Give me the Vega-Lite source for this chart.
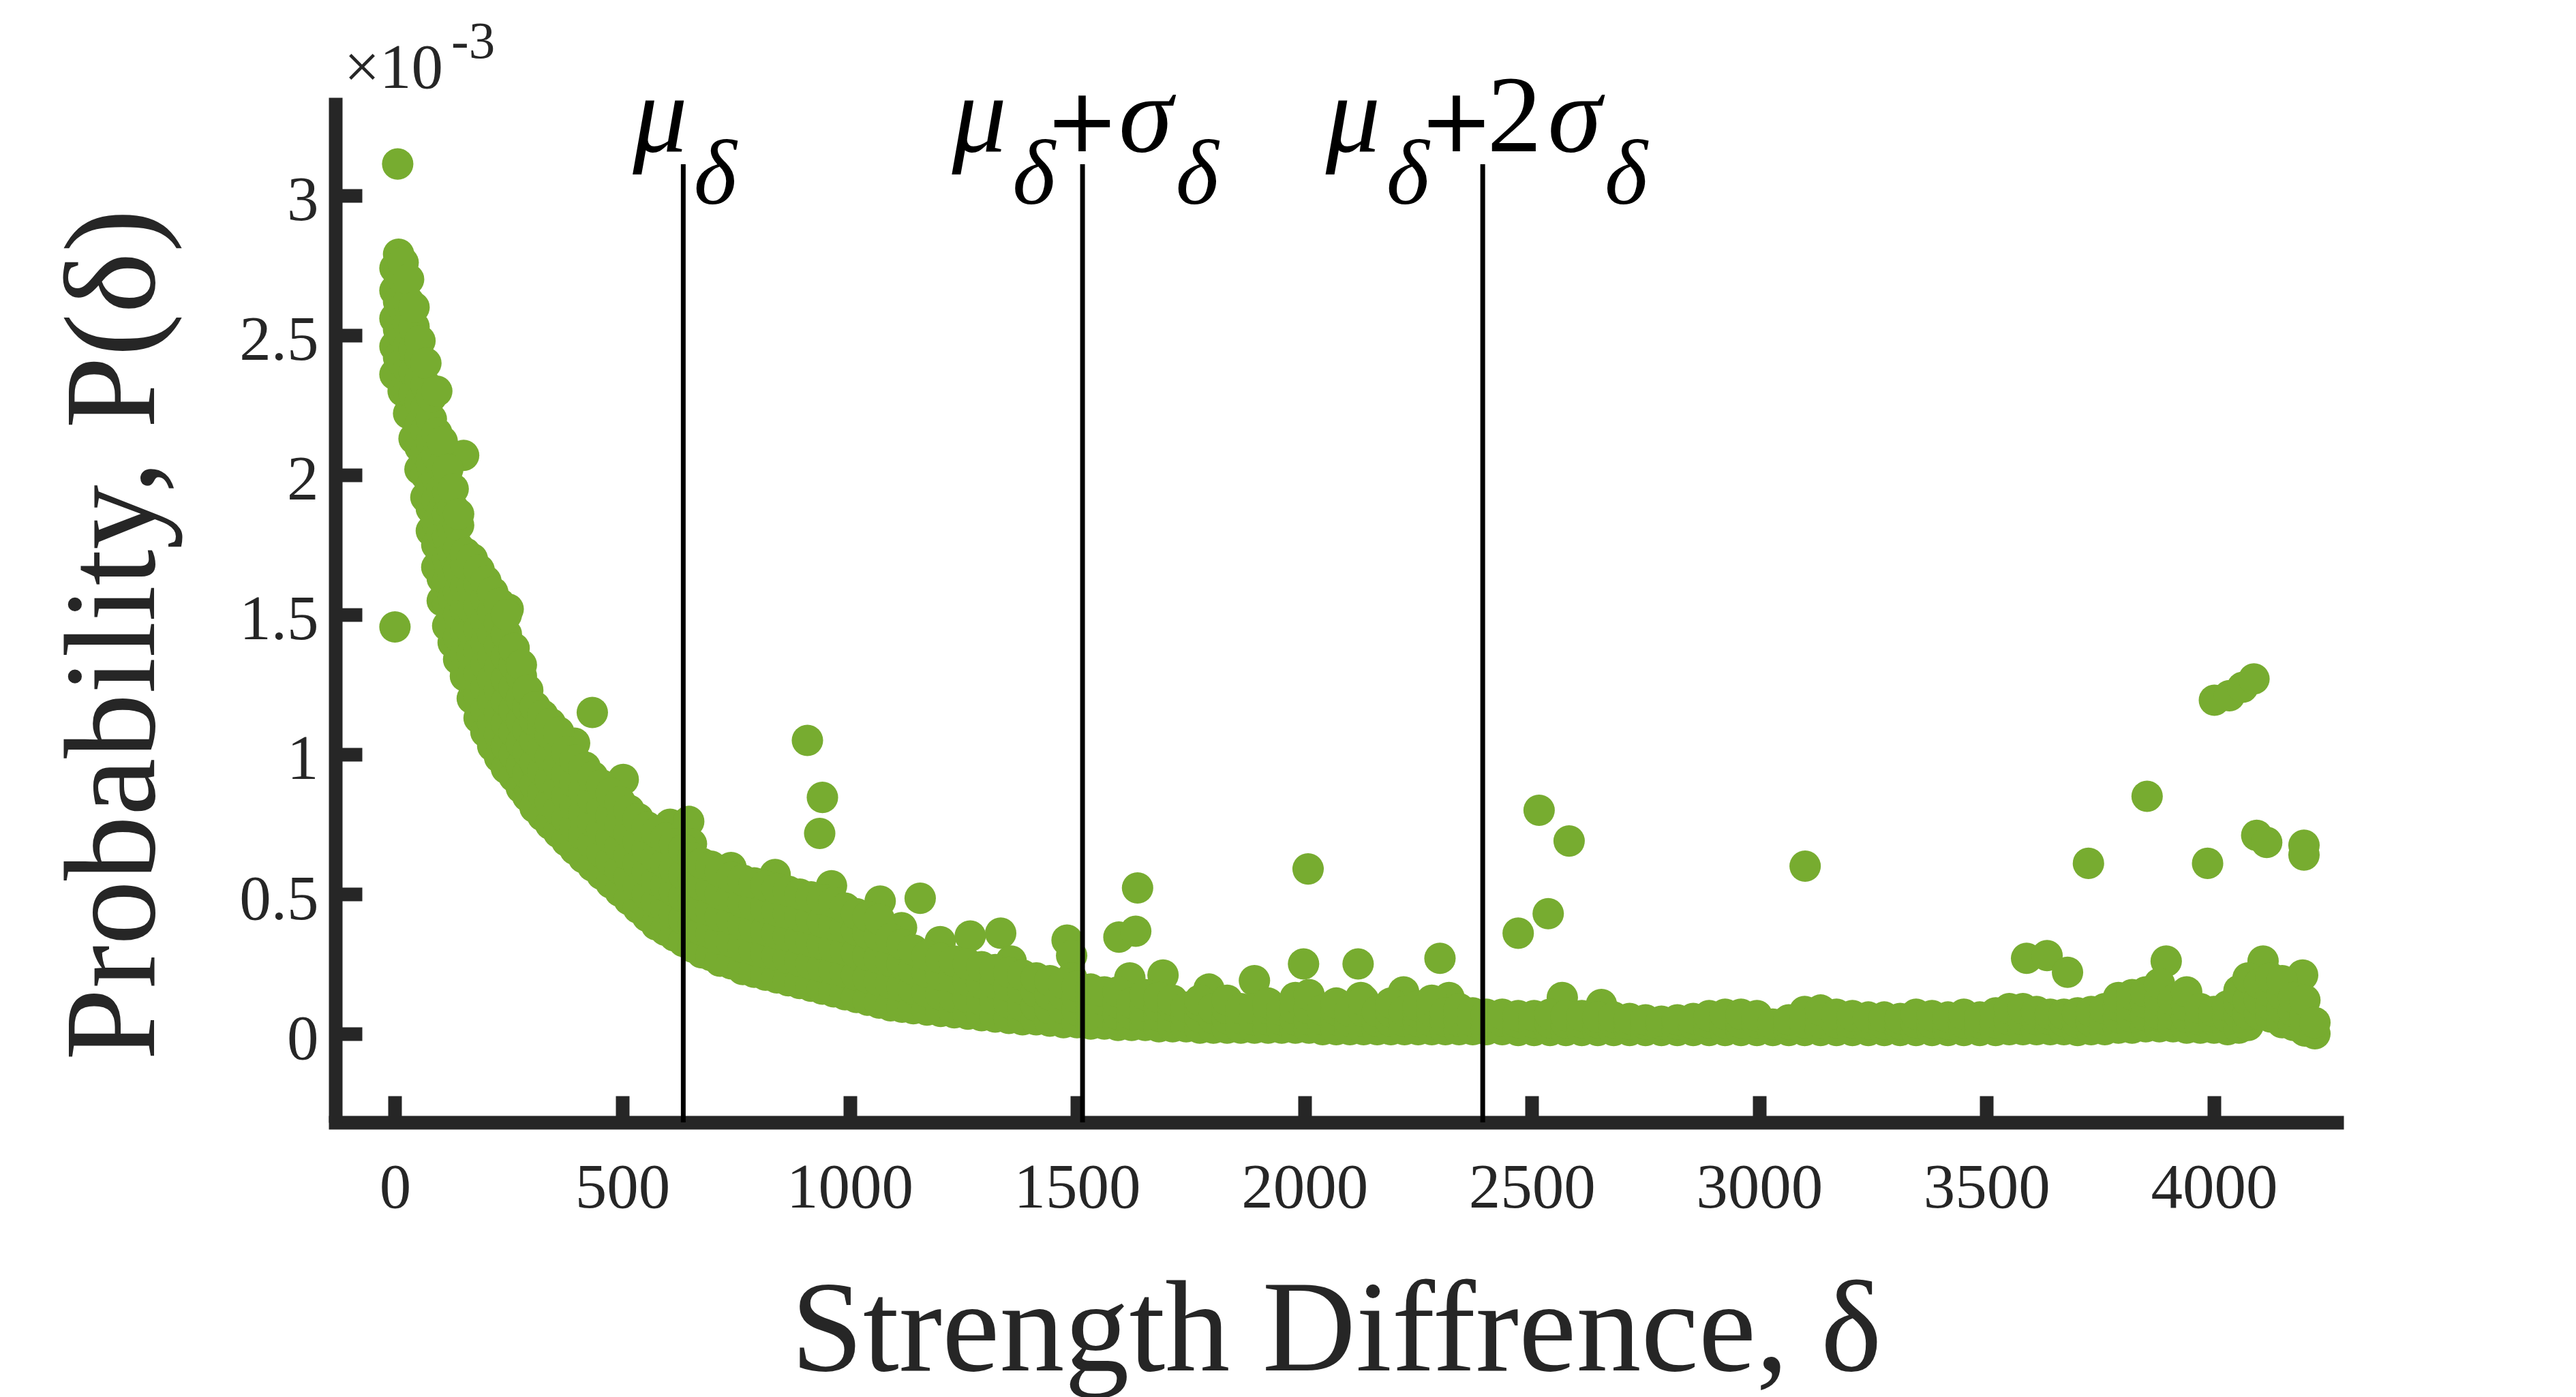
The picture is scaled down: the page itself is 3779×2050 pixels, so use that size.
{
  "$schema": "https://vega.github.io/schema/vega-lite/v6.json",
  "width": 2936,
  "height": 1504,
  "autosize": {"type": "none"},
  "padding": {"left": 492, "top": 143, "right": 351, "bottom": 403},
  "background": "white",
  "config": {"view": {"stroke": null}},
  "encoding": {
    "x": {
      "field": "x", "type": "quantitative",
      "scale": {"domain": [-131, 4270], "nice": false, "zero": false},
      "axis": {
        "title": "Strength Diffrence, δ",
        "values": [0, 500, 1000, 1500, 2000, 2500, 3000, 3500, 4000],
        "format": "d", "grid": false,
        "domainColor": "#262626", "domainWidth": 20, "domainCap": "square",
        "tickColor": "#262626", "tickWidth": 20, "tickSize": -39,
        "labelFont": "Liberation Serif", "labelFontSize": 93, "labelColor": "#262626",
        "labelPadding": 90, "labelFlush": false, "labelOverlap": false, "labelLimit": 0,
        "titleFont": "Liberation Serif", "titleFontSize": 190, "titleFontWeight": "normal",
        "titleColor": "#262626", "titleY": 363, "titleBaseline": "alphabetic", "titleLimit": 0
      }
    },
    "y": {
      "field": "y", "type": "quantitative",
      "scale": {"domain": [-0.317, 3.351], "nice": false, "zero": false},
      "axis": {
        "title": "Probability, P(δ)",
        "values": [0, 0.5, 1, 1.5, 2, 2.5, 3],
        "format": "~g", "grid": false,
        "domainColor": "#262626", "domainWidth": 20,
        "tickColor": "#262626", "tickWidth": 20, "tickSize": -39,
        "labelFont": "Liberation Serif", "labelFontSize": 93, "labelColor": "#262626",
        "labelPadding": 64, "labelOffset": 8, "labelFlush": false, "labelOverlap": false, "labelLimit": 0,
        "titleFont": "Liberation Serif", "titleFontSize": 190, "titleFontWeight": "normal",
        "titleColor": "#262626", "titleX": -267, "titleY": 788, "titleAngle": -90,
        "titleBaseline": "alphabetic", "titleAlign": "center", "titleLimit": 0
      }
    }
  },
  "layer": [
    {
      "data": {"values": [
        {"x":6,"y":3.113},{"x":0,"y":1.456},{"x":151,"y":2.07},{"x":249,"y":1.52},{"x":434,"y":1.15},{"x":395,"y":1.04},{"x":418,"y":0.955},{"x":502,"y":0.91},{"x":605,"y":0.75},{"x":646,"y":0.76},{"x":652,"y":0.68},{"x":739,"y":0.595},{"x":836,"y":0.57},{"x":907,"y":1.05},{"x":940,"y":0.846},{"x":934,"y":0.717},{"x":960,"y":0.53},{"x":1067,"y":0.475},{"x":1155,"y":0.485},{"x":1114,"y":0.38},{"x":1199,"y":0.33},{"x":1265,"y":0.35},{"x":1332,"y":0.36},{"x":1355,"y":0.26},{"x":1478,"y":0.335},{"x":1488,"y":0.28},{"x":1488,"y":0.2},{"x":1592,"y":0.346},{"x":1629,"y":0.367},{"x":1633,"y":0.522},{"x":1616,"y":0.2},{"x":1689,"y":0.21},{"x":1790,"y":0.16},{"x":1890,"y":0.19},{"x":1998,"y":0.25},{"x":2008,"y":0.59},{"x":2118,"y":0.25},{"x":2124,"y":0.13},{"x":2218,"y":0.15},{"x":2298,"y":0.27},{"x":2318,"y":0.13},{"x":2470,"y":0.36},{"x":2516,"y":0.8},{"x":2536,"y":0.43},{"x":2582,"y":0.69},{"x":2567,"y":0.13},{"x":2653,"y":0.105},{"x":3101,"y":0.6},{"x":3588,"y":0.27},{"x":3633,"y":0.28},{"x":3678,"y":0.22},{"x":3724,"y":0.61},{"x":3853,"y":0.85},{"x":3895,"y":0.26},{"x":3986,"y":0.61},{"x":4001,"y":1.194},{"x":4034,"y":1.21},{"x":4063,"y":1.24},{"x":4088,"y":1.27},{"x":4094,"y":0.71},{"x":4116,"y":0.685},{"x":4198,"y":0.675},{"x":4198,"y":0.64},{"x":4108,"y":0.26},{"x":4195,"y":0.21},
        {"x":0,"y":2.36},{"x":0,"y":2.46},{"x":0,"y":2.56},{"x":0,"y":2.66},{"x":0,"y":2.74},
        {"x":8,"y":2.42},{"x":8,"y":2.52},{"x":8,"y":2.62},{"x":8,"y":2.72},{"x":8,"y":2.79},
        {"x":18,"y":2.3},{"x":18,"y":2.4},{"x":18,"y":2.5},{"x":18,"y":2.6},{"x":18,"y":2.7},{"x":18,"y":2.76},
        {"x":30,"y":2.22},{"x":30,"y":2.3},{"x":30,"y":2.38},{"x":30,"y":2.46},{"x":30,"y":2.54},{"x":30,"y":2.62},{"x":30,"y":2.7},
        {"x":42,"y":2.13},{"x":42,"y":2.21},{"x":42,"y":2.29},{"x":42,"y":2.37},{"x":42,"y":2.45},{"x":42,"y":2.53},{"x":42,"y":2.6},
        {"x":55,"y":2.02},{"x":55,"y":2.1},{"x":55,"y":2.18},{"x":55,"y":2.26},{"x":55,"y":2.34},{"x":55,"y":2.42},{"x":55,"y":2.48},
        {"x":68,"y":1.92},{"x":68,"y":2.0},{"x":68,"y":2.08},{"x":68,"y":2.16},{"x":68,"y":2.24},{"x":68,"y":2.32},{"x":68,"y":2.4},
        {"x":80,"y":1.8},{"x":80,"y":1.88},{"x":80,"y":1.96},{"x":80,"y":2.04},{"x":80,"y":2.12},{"x":80,"y":2.2},{"x":80,"y":2.28},
        {"x":92,"y":1.67},{"x":92,"y":1.75},{"x":92,"y":1.83},{"x":92,"y":1.91},{"x":92,"y":1.99},{"x":92,"y":2.07},{"x":92,"y":2.15},{"x":92,"y":2.3},
        {"x":104,"y":1.55},{"x":104,"y":1.63},{"x":104,"y":1.71},{"x":104,"y":1.79},{"x":104,"y":1.87},{"x":104,"y":1.95},{"x":104,"y":2.03},{"x":104,"y":2.12},
        {"x":116,"y":1.46},{"x":116,"y":1.54},{"x":116,"y":1.62},{"x":116,"y":1.7},{"x":116,"y":1.78},{"x":116,"y":1.86},{"x":116,"y":1.94},{"x":116,"y":2.02},
        {"x":128,"y":1.4},{"x":128,"y":1.48},{"x":128,"y":1.56},{"x":128,"y":1.64},{"x":128,"y":1.72},{"x":128,"y":1.8},{"x":128,"y":1.88},{"x":128,"y":1.95},
        {"x":140,"y":1.34},{"x":140,"y":1.42},{"x":140,"y":1.5},{"x":140,"y":1.58},{"x":140,"y":1.66},{"x":140,"y":1.74},{"x":140,"y":1.82},{"x":140,"y":1.86},
        {"x":155,"y":1.28},{"x":155,"y":1.36},{"x":155,"y":1.44},{"x":155,"y":1.52},{"x":155,"y":1.6},{"x":155,"y":1.68},{"x":155,"y":1.72},
        {"x":170,"y":1.2},{"x":170,"y":1.28},{"x":170,"y":1.36},{"x":170,"y":1.44},{"x":170,"y":1.52},{"x":170,"y":1.6},{"x":170,"y":1.7},
        {"x":185,"y":1.13},{"x":185,"y":1.21},{"x":185,"y":1.29},{"x":185,"y":1.37},{"x":185,"y":1.45},{"x":185,"y":1.53},{"x":185,"y":1.61},{"x":185,"y":1.66},
        {"x":200,"y":1.08},{"x":200,"y":1.16},{"x":200,"y":1.24},{"x":200,"y":1.32},{"x":200,"y":1.4},{"x":200,"y":1.48},{"x":200,"y":1.56},{"x":200,"y":1.62},
        {"x":215,"y":1.03},{"x":215,"y":1.11},{"x":215,"y":1.19},{"x":215,"y":1.27},{"x":215,"y":1.35},{"x":215,"y":1.43},{"x":215,"y":1.51},{"x":215,"y":1.58},
        {"x":230,"y":0.99},{"x":230,"y":1.07},{"x":230,"y":1.15},{"x":230,"y":1.23},{"x":230,"y":1.31},{"x":230,"y":1.39},{"x":230,"y":1.47},{"x":230,"y":1.54},
        {"x":245,"y":0.95},{"x":245,"y":1.03},{"x":245,"y":1.11},{"x":245,"y":1.19},{"x":245,"y":1.27},{"x":245,"y":1.35},{"x":245,"y":1.43},{"x":245,"y":1.5},
        {"x":262,"y":0.92},{"x":262,"y":1.0},{"x":262,"y":1.08},{"x":262,"y":1.16},{"x":262,"y":1.24},{"x":262,"y":1.32},{"x":262,"y":1.38},
        {"x":278,"y":0.88},{"x":278,"y":0.96},{"x":278,"y":1.04},{"x":278,"y":1.12},{"x":278,"y":1.2},{"x":278,"y":1.28},{"x":278,"y":1.32},
        {"x":292,"y":0.85},{"x":292,"y":0.93},{"x":292,"y":1.01},{"x":292,"y":1.09},{"x":292,"y":1.17},{"x":292,"y":1.23},
        {"x":308,"y":0.81},{"x":308,"y":0.89},{"x":308,"y":0.97},{"x":308,"y":1.05},{"x":308,"y":1.12},{"x":308,"y":1.17},
        {"x":325,"y":0.78},{"x":325,"y":0.86},{"x":325,"y":0.94},{"x":325,"y":1.02},{"x":325,"y":1.1},{"x":325,"y":1.14},
        {"x":342,"y":0.75},{"x":342,"y":0.83},{"x":342,"y":0.91},{"x":342,"y":0.99},{"x":342,"y":1.07},{"x":342,"y":1.11},
        {"x":360,"y":0.72},{"x":360,"y":0.8},{"x":360,"y":0.88},{"x":360,"y":0.96},{"x":360,"y":1.04},{"x":360,"y":1.08},
        {"x":378,"y":0.69},{"x":378,"y":0.77},{"x":378,"y":0.85},{"x":378,"y":0.93},{"x":378,"y":1.01},
        {"x":396,"y":0.66},{"x":396,"y":0.74},{"x":396,"y":0.82},{"x":396,"y":0.9},{"x":396,"y":0.98},
        {"x":415,"y":0.63},{"x":415,"y":0.71},{"x":415,"y":0.79},{"x":415,"y":0.87},{"x":415,"y":0.95},
        {"x":435,"y":0.6},{"x":435,"y":0.68},{"x":435,"y":0.76},{"x":435,"y":0.84},{"x":435,"y":0.92},
        {"x":455,"y":0.57},{"x":455,"y":0.65},{"x":455,"y":0.73},{"x":455,"y":0.81},{"x":455,"y":0.89},
        {"x":475,"y":0.54},{"x":475,"y":0.62},{"x":475,"y":0.7},{"x":475,"y":0.78},{"x":475,"y":0.86},
        {"x":495,"y":0.51},{"x":495,"y":0.59},{"x":495,"y":0.67},{"x":495,"y":0.75},{"x":495,"y":0.83},
        {"x":515,"y":0.48},{"x":515,"y":0.56},{"x":515,"y":0.64},{"x":515,"y":0.72},{"x":515,"y":0.8},
        {"x":535,"y":0.45},{"x":535,"y":0.53},{"x":535,"y":0.61},{"x":535,"y":0.69},{"x":535,"y":0.77},
        {"x":555,"y":0.42},{"x":555,"y":0.5},{"x":555,"y":0.58},{"x":555,"y":0.66},{"x":555,"y":0.74},
        {"x":575,"y":0.39},{"x":575,"y":0.47},{"x":575,"y":0.55},{"x":575,"y":0.63},{"x":575,"y":0.72},
        {"x":595,"y":0.37},{"x":595,"y":0.45},{"x":595,"y":0.53},{"x":595,"y":0.61},{"x":595,"y":0.7},
        {"x":615,"y":0.35},{"x":615,"y":0.43},{"x":615,"y":0.51},{"x":615,"y":0.59},{"x":615,"y":0.68},
        {"x":635,"y":0.33},{"x":635,"y":0.41},{"x":635,"y":0.49},{"x":635,"y":0.57},{"x":635,"y":0.66},
        {"x":655,"y":0.31},{"x":655,"y":0.39},{"x":655,"y":0.47},{"x":655,"y":0.55},{"x":655,"y":0.63},
        {"x":675,"y":0.29},{"x":675,"y":0.37},{"x":675,"y":0.45},{"x":675,"y":0.53},{"x":675,"y":0.61},
        {"x":695,"y":0.28},{"x":695,"y":0.36},{"x":695,"y":0.44},{"x":695,"y":0.52},{"x":695,"y":0.6},
        {"x":715,"y":0.26},{"x":715,"y":0.34},{"x":715,"y":0.42},{"x":715,"y":0.5},{"x":715,"y":0.58},
        {"x":740,"y":0.25},{"x":740,"y":0.33},{"x":740,"y":0.41},{"x":740,"y":0.49},{"x":740,"y":0.56},
        {"x":765,"y":0.23},{"x":765,"y":0.31},{"x":765,"y":0.39},{"x":765,"y":0.47},{"x":765,"y":0.55},
        {"x":790,"y":0.22},{"x":790,"y":0.3},{"x":790,"y":0.38},{"x":790,"y":0.46},{"x":790,"y":0.54},
        {"x":815,"y":0.21},{"x":815,"y":0.29},{"x":815,"y":0.37},{"x":815,"y":0.45},{"x":815,"y":0.53},
        {"x":840,"y":0.2},{"x":840,"y":0.28},{"x":840,"y":0.36},{"x":840,"y":0.44},{"x":840,"y":0.52},
        {"x":865,"y":0.19},{"x":865,"y":0.27},{"x":865,"y":0.35},{"x":865,"y":0.43},{"x":865,"y":0.51},
        {"x":890,"y":0.18},{"x":890,"y":0.26},{"x":890,"y":0.34},{"x":890,"y":0.42},{"x":890,"y":0.5},
        {"x":915,"y":0.17},{"x":915,"y":0.25},{"x":915,"y":0.33},{"x":915,"y":0.41},{"x":915,"y":0.49},
        {"x":940,"y":0.16},{"x":940,"y":0.24},{"x":940,"y":0.32},{"x":940,"y":0.4},{"x":940,"y":0.48},
        {"x":965,"y":0.15},{"x":965,"y":0.23},{"x":965,"y":0.31},{"x":965,"y":0.39},{"x":965,"y":0.47},
        {"x":990,"y":0.14},{"x":990,"y":0.22},{"x":990,"y":0.3},{"x":990,"y":0.38},{"x":990,"y":0.45},
        {"x":1015,"y":0.13},{"x":1015,"y":0.21},{"x":1015,"y":0.29},{"x":1015,"y":0.37},{"x":1015,"y":0.43},
        {"x":1040,"y":0.12},{"x":1040,"y":0.2},{"x":1040,"y":0.28},{"x":1040,"y":0.36},{"x":1040,"y":0.42},
        {"x":1065,"y":0.11},{"x":1065,"y":0.19},{"x":1065,"y":0.27},{"x":1065,"y":0.35},{"x":1065,"y":0.41},
        {"x":1090,"y":0.1},{"x":1090,"y":0.18},{"x":1090,"y":0.26},{"x":1090,"y":0.34},
        {"x":1115,"y":0.095},{"x":1115,"y":0.17},{"x":1115,"y":0.25},{"x":1115,"y":0.32},
        {"x":1140,"y":0.09},{"x":1140,"y":0.16},{"x":1140,"y":0.23},{"x":1140,"y":0.3},
        {"x":1170,"y":0.085},{"x":1170,"y":0.15},{"x":1170,"y":0.22},{"x":1170,"y":0.28},
        {"x":1200,"y":0.08},{"x":1200,"y":0.14},{"x":1200,"y":0.21},{"x":1200,"y":0.27},
        {"x":1230,"y":0.075},{"x":1230,"y":0.13},{"x":1230,"y":0.2},{"x":1230,"y":0.26},
        {"x":1260,"y":0.07},{"x":1260,"y":0.13},{"x":1260,"y":0.19},{"x":1260,"y":0.25},
        {"x":1290,"y":0.065},{"x":1290,"y":0.12},{"x":1290,"y":0.18},{"x":1290,"y":0.24},
        {"x":1320,"y":0.06},{"x":1320,"y":0.12},{"x":1320,"y":0.18},{"x":1320,"y":0.23},
        {"x":1350,"y":0.055},{"x":1350,"y":0.11},{"x":1350,"y":0.17},{"x":1350,"y":0.22},
        {"x":1380,"y":0.05},{"x":1380,"y":0.1},{"x":1380,"y":0.16},{"x":1380,"y":0.21},
        {"x":1410,"y":0.05},{"x":1410,"y":0.1},{"x":1410,"y":0.15},{"x":1410,"y":0.2},
        {"x":1440,"y":0.045},{"x":1440,"y":0.09},{"x":1440,"y":0.14},{"x":1440,"y":0.19},
        {"x":1470,"y":0.04},{"x":1470,"y":0.09},{"x":1470,"y":0.14},{"x":1470,"y":0.18},
        {"x":1500,"y":0.04},{"x":1500,"y":0.085},{"x":1500,"y":0.13},{"x":1500,"y":0.17},
        {"x":1530,"y":0.035},{"x":1530,"y":0.08},{"x":1530,"y":0.12},{"x":1530,"y":0.16},
        {"x":1560,"y":0.035},{"x":1560,"y":0.075},{"x":1560,"y":0.12},{"x":1560,"y":0.15},
        {"x":1590,"y":0.03},{"x":1590,"y":0.07},{"x":1590,"y":0.11},{"x":1590,"y":0.15},
        {"x":1620,"y":0.03},{"x":1620,"y":0.07},{"x":1620,"y":0.11},
        {"x":1650,"y":0.03},{"x":1650,"y":0.065},{"x":1650,"y":0.1},{"x":1650,"y":0.14},
        {"x":1680,"y":0.025},{"x":1680,"y":0.065},{"x":1680,"y":0.1},{"x":1680,"y":0.13},
        {"x":1710,"y":0.025},{"x":1710,"y":0.06},{"x":1710,"y":0.1},{"x":1710,"y":0.12},
        {"x":1740,"y":0.025},{"x":1740,"y":0.06},{"x":1740,"y":0.095},
        {"x":1770,"y":0.02},{"x":1770,"y":0.06},{"x":1770,"y":0.1},{"x":1770,"y":0.12},
        {"x":1800,"y":0.02},{"x":1800,"y":0.055},{"x":1800,"y":0.09},
        {"x":1830,"y":0.02},{"x":1830,"y":0.055},{"x":1830,"y":0.09},{"x":1830,"y":0.12},
        {"x":1860,"y":0.02},{"x":1860,"y":0.055},{"x":1860,"y":0.09},
        {"x":1890,"y":0.02},{"x":1890,"y":0.05},{"x":1890,"y":0.09},
        {"x":1920,"y":0.02},{"x":1920,"y":0.05},{"x":1920,"y":0.09},{"x":1920,"y":0.11},
        {"x":1950,"y":0.02},{"x":1950,"y":0.05},{"x":1950,"y":0.085},
        {"x":1980,"y":0.02},{"x":1980,"y":0.05},{"x":1980,"y":0.09},{"x":1980,"y":0.13},
        {"x":2010,"y":0.02},{"x":2010,"y":0.05},{"x":2010,"y":0.09},{"x":2010,"y":0.14},
        {"x":2040,"y":0.015},{"x":2040,"y":0.05},{"x":2040,"y":0.085},
        {"x":2070,"y":0.015},{"x":2070,"y":0.05},{"x":2070,"y":0.085},{"x":2070,"y":0.11},
        {"x":2100,"y":0.015},{"x":2100,"y":0.045},{"x":2100,"y":0.08},
        {"x":2130,"y":0.015},{"x":2130,"y":0.045},{"x":2130,"y":0.08},{"x":2130,"y":0.12},
        {"x":2160,"y":0.015},{"x":2160,"y":0.045},{"x":2160,"y":0.08},
        {"x":2190,"y":0.015},{"x":2190,"y":0.045},{"x":2190,"y":0.08},{"x":2190,"y":0.11},
        {"x":2220,"y":0.015},{"x":2220,"y":0.045},{"x":2220,"y":0.08},
        {"x":2250,"y":0.015},{"x":2250,"y":0.045},{"x":2250,"y":0.075},{"x":2250,"y":0.1},
        {"x":2280,"y":0.015},{"x":2280,"y":0.045},{"x":2280,"y":0.08},{"x":2280,"y":0.12},
        {"x":2310,"y":0.015},{"x":2310,"y":0.045},{"x":2310,"y":0.075},
        {"x":2340,"y":0.015},{"x":2340,"y":0.045},{"x":2340,"y":0.075},{"x":2340,"y":0.09},
        {"x":2370,"y":0.015},{"x":2370,"y":0.045},{"x":2370,"y":0.075},
        {"x":2400,"y":0.015},{"x":2400,"y":0.045},{"x":2400,"y":0.07},
        {"x":2435,"y":0.015},{"x":2435,"y":0.045},{"x":2435,"y":0.07},
        {"x":2470,"y":0.012},{"x":2470,"y":0.04},{"x":2470,"y":0.065},
        {"x":2505,"y":0.012},{"x":2505,"y":0.04},{"x":2505,"y":0.065},
        {"x":2540,"y":0.012},{"x":2540,"y":0.04},{"x":2540,"y":0.07},
        {"x":2575,"y":0.012},{"x":2575,"y":0.04},{"x":2575,"y":0.065},
        {"x":2610,"y":0.012},{"x":2610,"y":0.04},{"x":2610,"y":0.065},
        {"x":2645,"y":0.012},{"x":2645,"y":0.04},{"x":2645,"y":0.06},
        {"x":2680,"y":0.012},{"x":2680,"y":0.04},{"x":2680,"y":0.06},
        {"x":2715,"y":0.012},{"x":2715,"y":0.035},{"x":2715,"y":0.055},
        {"x":2750,"y":0.012},{"x":2750,"y":0.035},{"x":2750,"y":0.05},
        {"x":2785,"y":0.012},{"x":2785,"y":0.035},{"x":2785,"y":0.045},
        {"x":2820,"y":0.012},{"x":2820,"y":0.035},{"x":2820,"y":0.05},
        {"x":2855,"y":0.012},{"x":2855,"y":0.035},{"x":2855,"y":0.055},
        {"x":2890,"y":0.012},{"x":2890,"y":0.04},{"x":2890,"y":0.065},
        {"x":2925,"y":0.012},{"x":2925,"y":0.04},{"x":2925,"y":0.07},
        {"x":2960,"y":0.012},{"x":2960,"y":0.04},{"x":2960,"y":0.07},
        {"x":2995,"y":0.012},{"x":2995,"y":0.04},{"x":2995,"y":0.065},
        {"x":3030,"y":0.012},{"x":3030,"y":0.035},
        {"x":3065,"y":0.012},{"x":3065,"y":0.035},{"x":3065,"y":0.05},
        {"x":3100,"y":0.012},{"x":3100,"y":0.04},{"x":3100,"y":0.08},
        {"x":3135,"y":0.012},{"x":3135,"y":0.04},{"x":3135,"y":0.085},
        {"x":3170,"y":0.012},{"x":3170,"y":0.04},{"x":3170,"y":0.07},
        {"x":3205,"y":0.012},{"x":3205,"y":0.04},{"x":3205,"y":0.065},
        {"x":3240,"y":0.012},{"x":3240,"y":0.035},{"x":3240,"y":0.06},
        {"x":3275,"y":0.012},{"x":3275,"y":0.035},{"x":3275,"y":0.06},
        {"x":3310,"y":0.012},{"x":3310,"y":0.035},{"x":3310,"y":0.055},
        {"x":3345,"y":0.012},{"x":3345,"y":0.04},{"x":3345,"y":0.07},
        {"x":3380,"y":0.012},{"x":3380,"y":0.04},{"x":3380,"y":0.065},
        {"x":3415,"y":0.012},{"x":3415,"y":0.035},{"x":3415,"y":0.06},
        {"x":3450,"y":0.012},{"x":3450,"y":0.04},{"x":3450,"y":0.07},
        {"x":3485,"y":0.012},{"x":3485,"y":0.04},{"x":3485,"y":0.06},
        {"x":3520,"y":0.012},{"x":3520,"y":0.04},{"x":3520,"y":0.075},
        {"x":3550,"y":0.015},{"x":3550,"y":0.05},{"x":3550,"y":0.09},
        {"x":3580,"y":0.015},{"x":3580,"y":0.05},{"x":3580,"y":0.09},
        {"x":3610,"y":0.015},{"x":3610,"y":0.05},{"x":3610,"y":0.08},
        {"x":3640,"y":0.015},{"x":3640,"y":0.05},{"x":3640,"y":0.07},
        {"x":3670,"y":0.015},{"x":3670,"y":0.045},{"x":3670,"y":0.07},
        {"x":3700,"y":0.012},{"x":3700,"y":0.04},{"x":3700,"y":0.075},
        {"x":3730,"y":0.015},{"x":3730,"y":0.045},{"x":3730,"y":0.08},
        {"x":3760,"y":0.015},{"x":3760,"y":0.05},{"x":3760,"y":0.09},
        {"x":3790,"y":0.02},{"x":3790,"y":0.06},{"x":3790,"y":0.1},{"x":3790,"y":0.13},
        {"x":3820,"y":0.02},{"x":3820,"y":0.06},{"x":3820,"y":0.1},{"x":3820,"y":0.14},
        {"x":3850,"y":0.025},{"x":3850,"y":0.065},{"x":3850,"y":0.11},{"x":3850,"y":0.15},
        {"x":3880,"y":0.025},{"x":3880,"y":0.07},{"x":3880,"y":0.12},{"x":3880,"y":0.18},
        {"x":3910,"y":0.025},{"x":3910,"y":0.07},{"x":3910,"y":0.12},
        {"x":3940,"y":0.02},{"x":3940,"y":0.06},{"x":3940,"y":0.1},{"x":3940,"y":0.15},
        {"x":3970,"y":0.02},{"x":3970,"y":0.05},{"x":3970,"y":0.09},
        {"x":4000,"y":0.02},{"x":4000,"y":0.05},{"x":4000,"y":0.08},
        {"x":4030,"y":0.015},{"x":4030,"y":0.06},{"x":4030,"y":0.1},
        {"x":4055,"y":0.02},{"x":4055,"y":0.07},{"x":4055,"y":0.11},{"x":4055,"y":0.155},
        {"x":4075,"y":0.03},{"x":4075,"y":0.07},{"x":4075,"y":0.12},{"x":4075,"y":0.2},
        {"x":4100,"y":0.07},{"x":4100,"y":0.12},{"x":4100,"y":0.18},
        {"x":4125,"y":0.06},{"x":4125,"y":0.1},{"x":4125,"y":0.15},{"x":4125,"y":0.2},
        {"x":4150,"y":0.04},{"x":4150,"y":0.09},{"x":4150,"y":0.14},{"x":4150,"y":0.19},
        {"x":4175,"y":0.03},{"x":4175,"y":0.08},{"x":4175,"y":0.13},
        {"x":4200,"y":0.01},{"x":4200,"y":0.06},{"x":4200,"y":0.12},
        {"x":4222,"y":0.0},{"x":4222,"y":0.04}
      ]},
      "mark": {"type": "circle", "size": 2124, "color": "#77AC30", "opacity": 1}
    },
    {
      "data": {"values": [
        {"x": 634, "y": 3.112, "y2": -0.317},
        {"x": 1512, "y": 3.112, "y2": -0.317},
        {"x": 2392, "y": 3.112, "y2": -0.317}
      ]},
      "mark": {"type": "rule", "color": "#000000", "strokeWidth": 7},
      "encoding": {"y2": {"field": "y2"}}
    },
    {
      "data": {"values": [
        {"x": 583, "y": 3.159, "t": "μ"},
        {"x": 1285, "y": 3.159, "t": "μ"},
        {"x": 1651, "y": 3.159, "t": "σ"},
        {"x": 2107, "y": 3.159, "t": "μ"},
        {"x": 2594, "y": 3.159, "t": "σ"}
      ]},
      "mark": {"type": "text", "font": "Liberation Serif", "fontStyle": "italic", "fontSize": 160, "align": "center", "baseline": "alphabetic", "color": "#000000"},
      "encoding": {"text": {"field": "t"}}
    },
    {
      "data": {"values": [
        {"x": 1511, "y": 3.159, "t": "+"},
        {"x": 2334, "y": 3.159, "t": "+"}
      ]},
      "mark": {"type": "text", "font": "DejaVu Sans", "fontSize": 130, "align": "center", "baseline": "alphabetic", "color": "#000000"},
      "encoding": {"text": {"field": "t"}}
    },
    {
      "data": {"values": [
        {"x": 2462, "y": 3.159, "t": "2"}
      ]},
      "mark": {"type": "text", "font": "Liberation Serif", "fontSize": 160, "align": "center", "baseline": "alphabetic", "color": "#000000"},
      "encoding": {"text": {"field": "t"}}
    },
    {
      "data": {"values": [
        {"x": 704, "y": 2.97, "t": "δ"},
        {"x": 1405, "y": 2.97, "t": "δ"},
        {"x": 1764, "y": 2.97, "t": "δ"},
        {"x": 2227, "y": 2.97, "t": "δ"},
        {"x": 2707, "y": 2.97, "t": "δ"}
      ]},
      "mark": {"type": "text", "font": "Liberation Serif", "fontStyle": "italic", "fontSize": 135, "align": "center", "baseline": "alphabetic", "color": "#000000"},
      "encoding": {"text": {"field": "t"}}
    },
    {
      "data": {"values": [{"x": -112, "y": 3.385, "t": "×10"}]},
      "mark": {"type": "text", "font": "Liberation Serif", "fontSize": 93, "align": "left", "baseline": "alphabetic", "color": "#262626"},
      "encoding": {"text": {"field": "t"}}
    },
    {
      "data": {"values": [{"x": 124, "y": 3.493, "t": "-3"}]},
      "mark": {"type": "text", "font": "Liberation Serif", "fontSize": 77, "align": "left", "baseline": "alphabetic", "color": "#262626"},
      "encoding": {"text": {"field": "t"}}
    }
  ]
}
